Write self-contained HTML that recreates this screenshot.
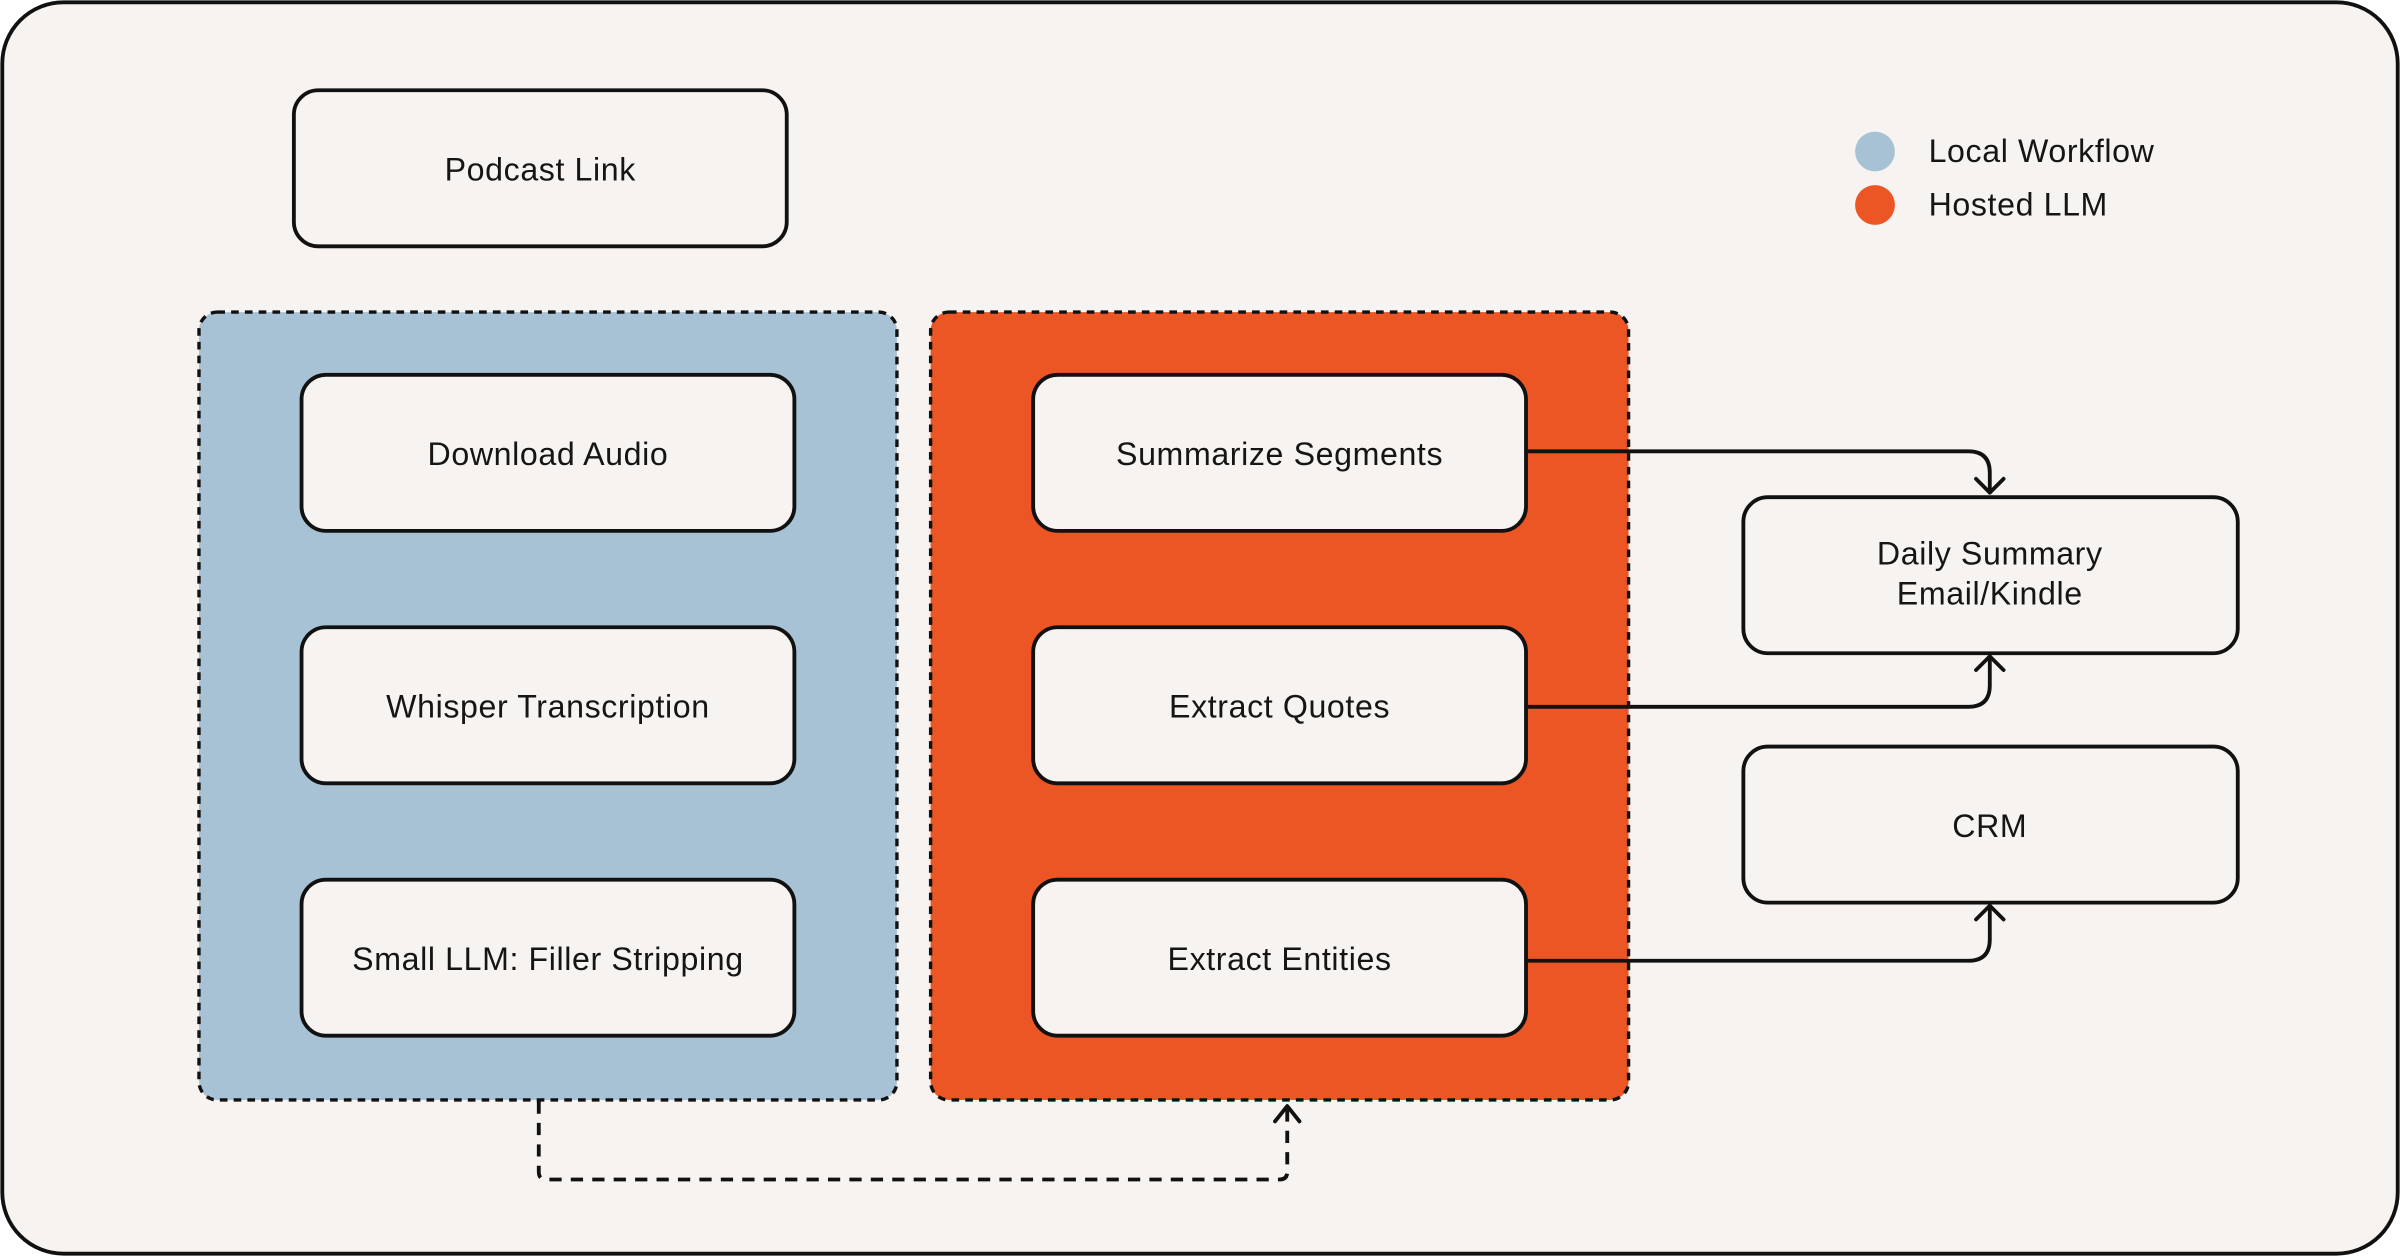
<!DOCTYPE html>
<html><head><meta charset="utf-8"><style>
html,body{margin:0;padding:0;background:#fff;}
svg{display:block;}
text{font-family:"Liberation Sans",sans-serif;font-size:21px;letter-spacing:0.4px;fill:#151515;}
</style></head><body>
<svg width="2400" height="1256" viewBox="0 0 1568 821" preserveAspectRatio="none" xmlns="http://www.w3.org/2000/svg">
<rect x="1.5" y="1.5" width="1565" height="818" rx="40" fill="#F6F3F0" stroke="#111" stroke-width="2.5"/>
<rect x="192" y="59" width="322" height="102" rx="16" fill="#F6F3F0" stroke="#111" stroke-width="2.5"/>
<text x="353" y="118" text-anchor="middle">Podcast Link</text>
<rect x="130" y="204" width="456" height="515" rx="12" fill="#A8C2D5" stroke="#111" stroke-width="2.2" stroke-dasharray="5 4"/>
<rect x="608" y="204" width="456" height="515" rx="12" fill="#EB5624" stroke="#111" stroke-width="2.2" stroke-dasharray="5 4"/>
<g fill="#F6F3F0" stroke="#111" stroke-width="2.5">
<rect x="197" y="245" width="322" height="102" rx="16"/>
<rect x="197" y="410" width="322" height="102" rx="16"/>
<rect x="197" y="575" width="322" height="102" rx="16"/>
<rect x="675" y="245" width="322" height="102" rx="16"/>
<rect x="675" y="410" width="322" height="102" rx="16"/>
<rect x="675" y="575" width="322" height="102" rx="16"/>
<rect x="1139" y="325" width="323" height="102" rx="16"/>
<rect x="1139" y="488" width="323" height="102" rx="16"/>
</g>
<g text-anchor="middle">
<text x="358" y="304">Download Audio</text>
<text x="358" y="469">Whisper Transcription</text>
<text x="358" y="634">Small LLM: Filler Stripping</text>
<text x="836" y="304">Summarize Segments</text>
<text x="836" y="469">Extract Quotes</text>
<text x="836" y="634">Extract Entities</text>
<text x="1300" y="369">Daily Summary</text>
<text x="1300" y="395">Email/Kindle</text>
<text x="1300" y="547">CRM</text>
</g>
<g fill="none" stroke="#111" stroke-width="2.5" stroke-linejoin="round" stroke-linecap="round">
<path d="M998 295 H1286 Q1300 295 1300 309 V322"/>
<path d="M1291 313 L1300 322 L1309 313"/>
<path d="M998 462 H1286 Q1300 462 1300 448 V429"/>
<path d="M1291 438 L1300 429 L1309 438"/>
<path d="M998 628 H1286 Q1300 628 1300 614 V592"/>
<path d="M1291 601 L1300 592 L1309 601"/>
<path d="M352 720 V766 Q352 771 357 771 H836 Q841 771 841 766 V724" stroke-dasharray="8 6" stroke-linecap="butt"/>
<path d="M833 733 L841 723 L849 733"/>
</g>
<circle cx="1225" cy="99" r="13" fill="#A8C2D5"/>
<circle cx="1225" cy="134" r="13" fill="#EB5624"/>
<text x="1260" y="106">Local Workflow</text>
<text x="1260" y="141">Hosted LLM</text>
</svg>
</body></html>
